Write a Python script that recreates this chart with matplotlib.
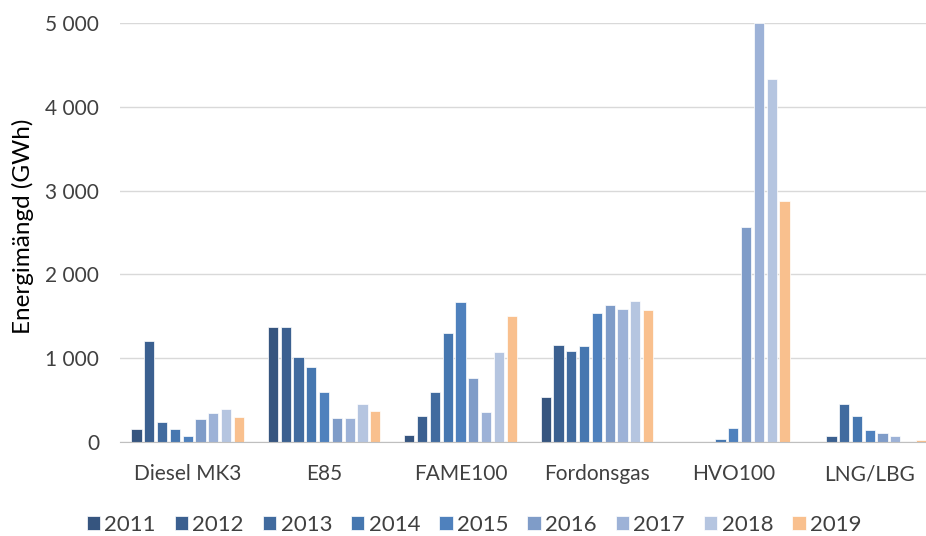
import numpy as np
import matplotlib
matplotlib.use("Agg")
import matplotlib.pyplot as plt
from matplotlib.ticker import FuncFormatter

plt.rcParams["font.family"] = ["Lato", "DejaVu Sans"]

# ── data (GWh) ─────────────────────────────────────────────────────────
categories = ["Diesel MK3", "E85", "FAME100", "Fordonsgas", "HVO100", "LNG/LBG"]
years = ["2011", "2012", "2013", "2014", "2015", "2016", "2017", "2018", "2019"]

diesel_mk3 = [160, 1200, 240, 160, 70, 270, 350, 395, 300]
e85 = [1375, 1375, 1020, 900, 595, 285, 285, 455, 365]
fame100 = [85, 315, 595, 1295, 1665, 760, 360, 1070, 1500]
fordonsgas = [535, 1160, 1085, 1145, 1545, 1635, 1590, 1680, 1575]
hvo100 = [0, 0, 0, 30, 165, 2565, 4995, 4330, 2870]
lng_lbg = [0, 75, 455, 315, 145, 110, 70, 0, 25]

colors = ["#36557f", "#3b6090", "#416b9f", "#4677b0", "#4f81bd",
          "#7f9cc8", "#9db2d7", "#b5c5e0", "#f9c08e"]

values = np.array([diesel_mk3, e85, fame100, fordonsgas, hvo100, lng_lbg], dtype=float)

fig = plt.figure(figsize=(9.26, 5.36), dpi=100)
ax = fig.add_axes([119.5 / 926, 94 / 536, (938 - 119.5) / 926, 419 / 536])

x = np.arange(len(categories))
slot = 0.0938
width = 0.075
for i, (yr, col) in enumerate(zip(years, colors)):
    ax.bar(x + (i - 4) * slot, values[:, i], width=width, color=col,
           edgecolor="white", linewidth=0.5, label=yr, zorder=3)

ax.set_xlim(-0.5, len(categories) - 0.5)
ax.set_ylim(0, 5000)
ax.set_yticks(np.arange(0, 5001, 1000))
ax.yaxis.set_major_formatter(FuncFormatter(lambda v, p: f"{int(v):,}".replace(",", " ")))
ax.set_xticks(x)
ax.set_xticklabels(categories)

ax.grid(axis="y", color="#d9d9d9", lw=1.0, zorder=0)
for s in ["top", "right", "left"]:
    ax.spines[s].set_visible(False)
ax.spines["bottom"].set_color("#bfbfbf")
ax.spines["bottom"].set_zorder(4)
ax.tick_params(axis="both", length=0, labelsize=15, labelcolor="#404040")
ax.tick_params(axis="y", pad=14.5)
ax.tick_params(axis="x", pad=16)

fig.text(22.5 / 926, 1 - 226.5 / 536, "Energimängd (GWh)", rotation=90,
         ha="center", va="center", fontsize=17.5, color="#000000")

fig.legend(loc="center", bbox_to_anchor=(474 / 926, 1 - 525 / 536), ncol=9,
           frameon=False, fontsize=16, handlelength=0.6, handleheight=0.6,
           handletextpad=0.2, columnspacing=0.85, labelcolor="#404040",
           borderpad=0, borderaxespad=0)

fig.savefig("out.png", dpi=100)
